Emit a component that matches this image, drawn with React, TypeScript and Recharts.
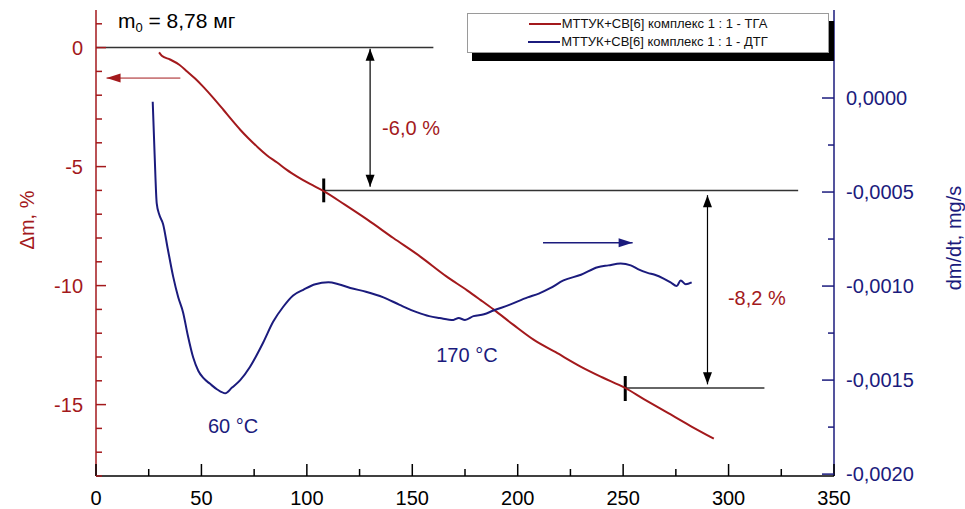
import { ComposedChart, Line, XAxis, YAxis, ReferenceLine, ReferenceDot, Legend } from "recharts";

// TGA curve: temperature (°C) -> mass change (%)
const tgaTemp = [
  29.9, 31.2, 35.1, 39.5, 43.2, 47.0, 50.8, 55.5, 60.3, 64.5, 68.4, 72.5, 76.4, 81.0, 85.9, 90.5,
  95.4, 101.5, 107.8, 118.0, 128.7, 141.0, 153.8, 166.0, 176.0, 182.3, 188.5, 198.0, 207.5, 218.0,
  229.8, 240.0, 250.7, 260.0, 271.0, 282.0, 293.0,
];
const tgaMass = [
  -0.2, -0.34, -0.5, -0.72, -1.0, -1.3, -1.64, -2.1, -2.6, -3.05, -3.45, -3.83, -4.16, -4.52, -4.83, -5.14,
  -5.42, -5.73, -6.02, -6.6, -7.23, -8.0, -8.78, -9.6, -10.2, -10.6, -11.0, -11.65, -12.27, -12.8,
  -13.4, -13.85, -14.29, -14.78, -15.34, -15.9, -16.43,
];

// DTG curve: temperature (°C) -> dm/dt (mg/s)
const dtgTemp = [
  26.9, 27.8, 28.8, 30.0, 31.8, 34.0, 36.6, 39.0, 41.3, 43.5, 46.1, 48.5, 51.0, 54.1, 57.5, 61.3,
  64.5, 68.4, 73.0, 79.3, 84.0, 88.8, 93.5, 98.3, 104.0, 110.2, 115.0, 120.6, 128.0, 136.3, 144.0,
  152.4, 158.0, 163.0, 169.5, 172.0, 175.0, 179.0, 184.0, 188.5, 196.0, 204.7, 210.0, 215.6, 221.7,
  230.0, 237.9, 243.0, 248.8, 253.6, 257.0, 261.6, 265.0, 269.2, 272.5, 275.4, 277.3, 279.7, 282.5,
];
const dtgRate = [
  -0.00002, -0.0003, -0.00056, -0.00062, -0.00067, -0.0008, -0.00095, -0.00106, -0.00114, -0.00126,
  -0.00138, -0.00145, -0.00149, -0.00152, -0.00155, -0.00157, -0.00154, -0.0015, -0.00143, -0.0013,
  -0.00119, -0.00111, -0.00105, -0.00102, -0.00099, -0.00098, -0.00099, -0.00101, -0.00103, -0.00106,
  -0.0011, -0.00114, -0.00116, -0.00117, -0.00118, -0.00117, -0.00118, -0.00116, -0.00115, -0.00113,
  -0.0011, -0.00106, -0.00104, -0.00101, -0.00097, -0.00094, -0.0009, -0.00089, -0.00088, -0.00089,
  -0.00091, -0.00093, -0.00094, -0.00096, -0.00098, -0.001, -0.00097, -0.00099, -0.00098,
];

const xTicks = [0, 25, 50, 75, 100, 125, 150, 175, 200, 225, 250, 275, 300, 325, 350];
const leftTicks = [-18, -17, -16, -15, -14, -13, -12, -11, -10, -9, -8, -7, -6, -5, -4, -3, -2, -1, 0, 1];
const rightTicks = [-0.002, -0.00175, -0.0015, -0.00125, -0.001, -0.00075, -0.0005, -0.00025, 0, 0.00025];

const tgaName = "МТТУК+СВ[6] комплекс 1 : 1 - ТГА";
const dtgName = "МТТУК+СВ[6] комплекс 1 : 1 - ДТГ";
const legendOrder = [tgaName, dtgName];

const tgaData = tgaTemp.map((t, i) => ({ t, m: tgaMass[i] }));
const dtgData = dtgTemp.map((t, i) => ({ t, r: dtgRate[i] }));

const RED = "#a3191c";
const NAVY = "#1b1b7d";
const INK = "#333";
const FONT = "'Liberation Sans', Arial, sans-serif";

function XTick({ x, y, payload }: any) {
  const major = payload.value % 50 === 0;
  return (
    <g>
      <line x1={x} y1={y} x2={x} y2={y - (major ? 12 : 7)} stroke="#000" strokeWidth={1.5} />
      {major && (
        <text x={x} y={y + 29} textAnchor="middle" fontSize={20} fill="#000" fontFamily={FONT}>
          {payload.value}
        </text>
      )}
    </g>
  );
}

function LeftTick({ x, y, payload }: any) {
  const major = payload.value % 5 === 0;
  return (
    <g>
      <line x1={x} y1={y} x2={x + (major ? 10 : 6)} y2={y} stroke={RED} strokeWidth={1.5} />
      {major && (
        <text x={x - 13} y={y + 7} textAnchor="end" fontSize={20} fill={RED} fontFamily={FONT}>
          {payload.value}
        </text>
      )}
    </g>
  );
}

function RightTick({ x, y, payload }: any) {
  const v = payload.value;
  const major = Math.abs(Math.round(v / 0.0005) * 0.0005 - v) < 1e-9;
  return (
    <g>
      <line x1={x} y1={y} x2={x - (major ? 12 : 6)} y2={y} stroke={NAVY} strokeWidth={1.5} />
      {major && (
        <text x={x + 12} y={y + 7} textAnchor="start" fontSize={20} fill={NAVY} fontFamily={FONT}>
          {v.toFixed(4).replace(".", ",")}
        </text>
      )}
    </g>
  );
}

function arrowHead(tx: number, ty: number, fx: number, fy: number, color: string, len: number) {
  const a = Math.atan2(ty - fy, tx - fx);
  const w = 4.5;
  const bx = tx - len * Math.cos(a);
  const by = ty - len * Math.sin(a);
  const pts = [
    [tx, ty],
    [bx + w * Math.sin(a), by - w * Math.cos(a)],
    [bx - w * Math.sin(a), by + w * Math.cos(a)],
  ];
  return <polygon points={pts.map((p) => p.join(",")).join(" ")} fill={color} />;
}

const arrowShape = (color: string, both: boolean, width: number, len: number) => (props: any) => {
  const { x1, y1, x2, y2 } = props;
  return (
    <g>
      <line x1={x1} y1={y1} x2={x2} y2={y2} stroke={color} strokeWidth={width} />
      {arrowHead(x2, y2, x1, y1, color, len)}
      {both && arrowHead(x1, y1, x2, y2, color, len)}
    </g>
  );
};

const textShape = (text: string, color: string) => (props: any) => (
  <text x={props.cx} y={props.cy + 7} textAnchor="middle" fontSize={20} fill={color} fontFamily={FONT}>
    {text}
  </text>
);

function TitleShape(props: any) {
  return (
    <text x={props.cx} y={props.cy} fontSize={21} fill="#000" fontFamily={FONT}>
      m
      <tspan fontSize={13} dy={4}>0</tspan>
      <tspan dy={-4}> = 8,78 мг</tspan>
    </text>
  );
}

function LegendBox({ payload }: any) {
  const items = [...(payload || [])].sort(
    (a: any, b: any) => legendOrder.indexOf(a.value) - legendOrder.indexOf(b.value)
  );
  return (
    <div
      style={{
        border: "1px solid #9a9a9a",
        background: "#fff",
        boxShadow: "5px 8px 0 #000",
        padding: "1px 0",
        fontFamily: FONT,
        fontSize: 13,
        lineHeight: "18px",
        display: "flex",
        flexDirection: "column",
        alignItems: "center",
        color: "#111",
      }}
    >
      {items.map((p: any) => (
        <div key={p.value} style={{ display: "flex", alignItems: "center" }}>
          <span style={{ display: "inline-block", width: 32, height: 2.5, background: p.color, marginRight: 1 }} />
          <span>{p.value}</span>
        </div>
      ))}
    </div>
  );
}

export default function App() {
  return (
    <div style={{ position: "absolute", left: 0, top: 0, background: "#fff" }}>
      <ComposedChart width={965} height={509} margin={{ top: 10, right: 0, bottom: 0, left: 0 }}>
        <XAxis
          type="number"
          dataKey="t"
          domain={[0, 350]}
          ticks={xTicks}
          height={33}
          tickSize={0}
          tickMargin={0}
          tick={<XTick />}
          axisLine={{ stroke: "#000", strokeWidth: 1.5 }}
          allowDataOverflow
        />
        <YAxis
          yAxisId="left"
          domain={[-18, 1.58]}
          ticks={leftTicks}
          width={96}
          tickSize={0}
          tickMargin={0}
          tick={<LeftTick />}
          axisLine={{ stroke: RED, strokeWidth: 1.5 }}
          allowDataOverflow
          label={{
            content: (p: any) => {
              const vb = p.viewBox;
              const cx = vb.x + 27;
              const cy = vb.y + 210;
              return (
                <text x={cx} y={cy} transform={`rotate(-90, ${cx}, ${cy})`} textAnchor="middle" dominantBaseline="central" fontSize={20} fill={RED} fontFamily={FONT}>
                  Δm, %
                </text>
              );
            },
          }}
        />
        <YAxis
          yAxisId="right"
          orientation="right"
          domain={[-0.00201, 0.000468]}
          ticks={rightTicks}
          width={131}
          tickSize={0}
          tickMargin={0}
          tick={<RightTick />}
          axisLine={{ stroke: NAVY, strokeWidth: 1.5 }}
          allowDataOverflow
          label={{
            content: (p: any) => {
              const vb = p.viewBox;
              const cx = vb.x + 120;
              const cy = vb.y + 228;
              return (
                <text x={cx} y={cy} transform={`rotate(-90, ${cx}, ${cy})`} textAnchor="middle" dominantBaseline="central" fontSize={20} fill={NAVY} fontFamily={FONT}>
                  dm/dt, mg/s
                </text>
              );
            },
          }}
        />
        <Legend
          layout="horizontal"
          verticalAlign="middle"
          align="center"
          wrapperStyle={{ top: 13, left: 467, width: 362 }}
          content={<LegendBox />}
        />

        {/* step construction */}
        <ReferenceLine yAxisId="left" segment={[{ x: 0, y: 0 }, { x: 160, y: 0 }]} stroke={INK} strokeWidth={1.5} />
        <ReferenceLine yAxisId="left" segment={[{ x: 108, y: -6 }, { x: 333, y: -6 }]} stroke={INK} strokeWidth={1.5} />
        <ReferenceLine yAxisId="left" segment={[{ x: 251, y: -14.3 }, { x: 317, y: -14.3 }]} stroke={INK} strokeWidth={1.5} />
        <ReferenceLine yAxisId="left" segment={[{ x: 108, y: -5.5 }, { x: 108, y: -6.5 }]} stroke="#000" strokeWidth={3} />
        <ReferenceLine yAxisId="left" segment={[{ x: 251, y: -13.8 }, { x: 251, y: -14.85 }]} stroke="#000" strokeWidth={3} />
        <ReferenceLine
          yAxisId="left"
          segment={[{ x: 130, y: -0.05 }, { x: 130, y: -5.85 }]}
          shape={arrowShape("#000", true, 1.2, 12)}
        />
        <ReferenceLine
          yAxisId="left"
          segment={[{ x: 290, y: -6.2 }, { x: 290, y: -14.15 }]}
          shape={arrowShape("#000", true, 1.2, 12)}
        />
        <ReferenceLine
          yAxisId="left"
          segment={[{ x: 40, y: -1.28 }, { x: 5, y: -1.28 }]}
          shape={arrowShape(RED, false, 1, 14)}
        />
        <ReferenceLine
          yAxisId="left"
          segment={[{ x: 212, y: -8.2 }, { x: 254.5, y: -8.2 }]}
          shape={arrowShape(NAVY, false, 1.5, 14)}
        />

        <Line
          yAxisId="left"
          data={tgaData}
          dataKey="m"
          name={tgaName}
          type="monotone"
          stroke={RED}
          strokeWidth={2}
          dot={false}
          isAnimationActive={false}
        />
        <Line
          yAxisId="right"
          data={dtgData}
          dataKey="r"
          name={dtgName}
          type="monotone"
          stroke={NAVY}
          strokeWidth={2}
          dot={false}
          isAnimationActive={false}
        />

        <ReferenceDot yAxisId="left" x={10.4} y={0.84} ifOverflow="visible" shape={TitleShape} />
        <ReferenceDot yAxisId="left" x={149.4} y={-3.36} ifOverflow="visible" shape={textShape("-6,0 %", RED)} />
        <ReferenceDot yAxisId="left" x={313.4} y={-10.5} ifOverflow="visible" shape={textShape("-8,2 %", RED)} />
        <ReferenceDot yAxisId="left" x={65} y={-15.9} ifOverflow="visible" shape={textShape("60 °C", NAVY)} />
        <ReferenceDot yAxisId="left" x={175.9} y={-12.9} ifOverflow="visible" shape={textShape("170 °C", NAVY)} />
      </ComposedChart>
    </div>
  );
}
